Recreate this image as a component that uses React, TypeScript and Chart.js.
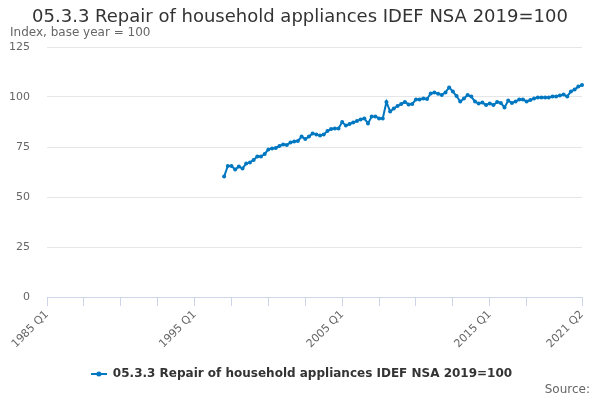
import { useEffect, useRef } from "react";
import { Chart, registerables } from "chart.js";

Chart.register(...registerables);

const titleText = "05.3.3 Repair of household appliances IDEF NSA 2019=100";
const yAxisText = "Index, base year = 100";
const sourceText = "Source:";
const seriesName = "05.3.3 Repair of household appliances IDEF NSA 2019=100";

const firstYear = 1985;
const lastYear = 2021;
const lastQuarter = 2;

const categories: string[] = [];
for (let y = firstYear; y <= lastYear; y++) {
  for (let q = 1; q <= 4; q++) {
    if (y === lastYear && q > lastQuarter) break;
    categories.push(`${y} Q${q}`);
  }
}

const seriesStart = "1997 Q1";
const seriesValues = [
  60.2, 65.5, 65.5, 63.8, 65.2, 64.3, 66.8, 67.3, 68.5, 70.3, 70.2, 71.5,
  73.8, 74.3, 74.5, 75.5, 76.3, 76.0, 77.3, 77.7, 78.0, 80.2, 79.0, 80.2,
  81.8, 81.3, 80.8, 81.2, 83.0, 84.0, 84.3, 84.3, 87.5, 85.7, 86.5, 87.3,
  88.0, 88.8, 89.3, 86.8, 90.2, 90.3, 89.3, 89.3, 97.5, 92.7, 94.3, 95.5,
  96.5, 97.5, 96.3, 96.5, 98.8, 98.7, 99.3, 99.0, 101.8, 102.2, 101.6, 101.0,
  102.3, 104.8, 102.7, 100.5, 97.7, 99.3, 101.0, 100.2, 97.7, 96.8, 97.2, 96.0,
  96.8, 96.0, 97.5, 97.0, 94.8, 98.2, 97.0, 97.8, 98.7, 98.7, 97.8, 98.5,
  99.2, 99.8, 99.8, 99.8, 99.8, 100.3, 100.3, 100.8, 101.2, 100.3, 102.8, 103.7,
  105.2, 106.0,
];

const labelledTicks = ["1985 Q1", "1995 Q1", "2005 Q1", "2015 Q1", "2021 Q2"];
const tickInterval = 10;
const yTicks = [0, 25, 50, 75, 100, 125];

const lineColor = "#0078c1";

export default function App() {
  const canvasRef = useRef<HTMLCanvasElement | null>(null);

  useEffect(() => {
    document.body.style.margin = "0";
    const canvas = canvasRef.current;
    if (!canvas) return;

    const startIndex = categories.indexOf(seriesStart);
    const data: (number | null)[] = categories.map((_, i) =>
      i >= startIndex && i - startIndex < seriesValues.length ? seriesValues[i - startIndex] : null
    );

    const sym = document.createElement("canvas");
    sym.width = 16;
    sym.height = 8;
    const sc = sym.getContext("2d");
    if (sc) {
      sc.strokeStyle = lineColor;
      sc.lineWidth = 2;
      sc.beginPath();
      sc.moveTo(0, 4);
      sc.lineTo(16, 4);
      sc.stroke();
      sc.fillStyle = lineColor;
      sc.beginPath();
      sc.arc(8, 4, 2.5, 0, Math.PI * 2);
      sc.fill();
    }

    const lastIdx = categories.length - 1;
    const isTickMark = (i: number) =>
      i === lastIdx || (i % tickInterval === 0 && i <= lastIdx - tickInterval);

    const textPlugin = {
      id: "texts",
      beforeDraw(chart: any) {
        const lg = chart.legend;
        if (lg) {
          lg.left = 5;
          lg.right = chart.width - 2;
        }
      },
      afterDraw(chart: any) {
        const ctx = chart.ctx as CanvasRenderingContext2D;
        ctx.save();
        ctx.textBaseline = "middle";
        ctx.fillStyle = "#333333";
        ctx.font = '18px "DejaVu Sans"';
        ctx.textAlign = "center";
        ctx.fillText(titleText, chart.width / 2, 17.5);
        ctx.fillStyle = "#666666";
        ctx.font = '12px "DejaVu Sans"';
        ctx.textAlign = "left";
        ctx.fillText(yAxisText, 10, 32.5);
        ctx.textAlign = "right";
        ctx.fillText(sourceText, 590, 389.5);
        ctx.restore();
      },
    };

    const chart = new Chart(canvas, {
      type: "line",
      data: {
        labels: categories,
        datasets: [
          {
            label: seriesName,
            data,
            borderColor: lineColor,
            backgroundColor: lineColor,
            borderWidth: 2,
            pointRadius: 2,
            pointBorderWidth: 0,
            pointBackgroundColor: lineColor,
            tension: 0,
          },
        ],
      },
      options: {
        responsive: false,
        animation: false,
        layout: { padding: { top: 47, right: 18, bottom: 10, left: 0 } },
        plugins: {
          title: { display: false },
          tooltip: { enabled: false },
          legend: {
            position: "bottom",
            labels: {
              usePointStyle: true,
              pointStyle: sym as any,
              pointStyleWidth: 16,
              color: "#333333",
              font: { family: '"DejaVu Sans"', size: 12, weight: "bold" },
              padding: 10,
            },
          },
        },
        scales: {
          x: {
            type: "category",
            offset: false,
            afterFit: (scale: any) => {
              scale.height = 61;
            },
            grid: {
              drawOnChartArea: false,
              drawTicks: true,
              tickLength: 9,
              color: (ctx: any) => (isTickMark(ctx.index) ? "#ccd6eb" : "rgba(0,0,0,0)"),
            },
            border: { display: true, color: "#ccd6eb" },
            ticks: {
              autoSkip: false,
              maxRotation: 45,
              minRotation: 45,
              padding: 2,
              color: "#666666",
              font: { family: '"DejaVu Sans"', size: 11 },
              callback: (_v: any, index: number) =>
                labelledTicks.includes(categories[index]) ? categories[index] : "",
            },
          },
          y: {
            min: yTicks[0],
            max: yTicks[yTicks.length - 1],
            afterFit: (scale: any) => {
              scale.width = 47;
            },
            afterBuildTicks: (scale: any) => {
              scale.ticks = yTicks.map((v) => ({ value: v }));
            },
            grid: {
              drawTicks: false,
              color: (ctx: any) => (ctx.tick && ctx.tick.value === 0 ? "rgba(0,0,0,0)" : "#e6e6e6"),
            },
            border: { display: false },
            ticks: {
              padding: 17,
              color: "#666666",
              font: { family: '"DejaVu Sans"', size: 11 },
            },
          },
        },
      },
      plugins: [textPlugin],
    });

    return () => chart.destroy();
  }, []);

  return (
    <div style={{ width: 600, height: 400 }}>
      <canvas ref={canvasRef} width={600} height={400} style={{ width: 600, height: 400, display: "block" }} />
    </div>
  );
}
